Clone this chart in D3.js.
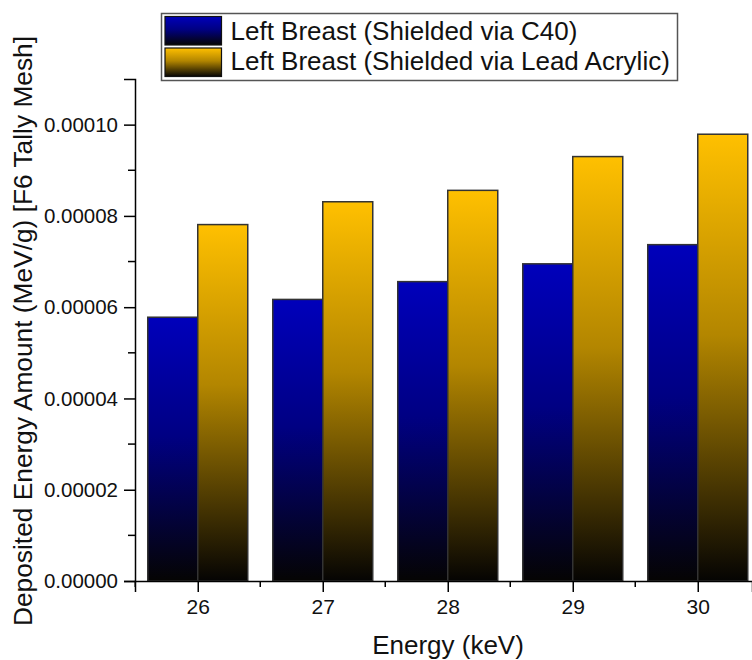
<!DOCTYPE html>
<html>
<head>
<meta charset="utf-8">
<script src="https://cdn.jsdelivr.net/npm/d3@7"></script>
<style>
  body { margin: 0; background: #fff; }
  svg { font-family: "Liberation Sans", Arial, sans-serif; }
</style>
</head>
<body>
<script>
// chart data
var energies = [26, 27, 28, 29, 30];
var c40Values = [0.0000578, 0.0000617, 0.0000656, 0.0000695, 0.0000737];
var leadAcrylicValues = [0.0000781, 0.0000831, 0.0000856, 0.0000930, 0.0000979];
var yTicks = [0, 0.00002, 0.00004, 0.00006, 0.00008, 0.00010];
var seriesNames = ["Left Breast (Shielded via C40)", "Left Breast (Shielded via Lead Acrylic)"];
var seriesColors = ["#0000bb", "#ffc000"];

var width = 752, height = 660;
var plotLeft = 135, plotBottom = 581, plotTop = 79;

var svg = d3.select("body").append("svg")
    .attr("width", width)
    .attr("height", height);

// gradients: colour at the top fading to black at the bottom
var defs = svg.append("defs");
seriesColors.forEach(function(c, i) {
    var g = defs.append("linearGradient")
        .attr("id", "grad" + i)
        .attr("x1", 0).attr("y1", 0)
        .attr("x2", 0).attr("y2", 1);
    g.append("stop").attr("offset", "0%").attr("stop-color", c);
    g.append("stop").attr("offset", "45%").attr("stop-color", d3.interpolateRgb(c, "#000")(0.3));
    g.append("stop").attr("offset", "100%").attr("stop-color", "#050403");
});

// the picture is cut at the right, just past the last bar
var xScale = d3.scaleLinear().domain([25.498, 30.434]).range([plotLeft, width]);
var yScale = d3.scaleLinear().domain([0, 0.00011]).range([plotBottom, plotTop]);

var barW = 0.4;

// bars
var series = [c40Values, leadAcrylicValues];
series.forEach(function(vals, si) {
    svg.append("g").selectAll("rect")
        .data(vals)
        .enter().append("rect")
        .attr("x", function(d, i) { return si === 0 ? xScale(energies[i] - barW) : xScale(energies[i]); })
        .attr("width", xScale(energies[0] + barW) - xScale(energies[0]))
        .attr("y", function(d) { return yScale(d); })
        .attr("height", function(d) { return yScale(0) - yScale(d); })
        .attr("fill", "url(#grad" + si + ")")
        .attr("stroke", "#333")
        .attr("stroke-width", 1.5);
});

// x axis
var xAxis = svg.append("g")
    .attr("transform", "translate(0," + plotBottom + ")")
    .call(d3.axisBottom(xScale)
        .tickValues(energies)
        .tickSize(11)
        .tickPadding(7)
        .tickFormat(d3.format("d")));
xAxis.append("g").selectAll("line")
    .data([25.5, 26.5, 27.5, 28.5, 29.5])
    .enter().append("line")
    .attr("x1", function(d) { return xScale(d); })
    .attr("x2", function(d) { return xScale(d); })
    .attr("y1", 0).attr("y2", 6)
    .attr("stroke", "#000");

// y axis
var yAxis = svg.append("g")
    .attr("transform", "translate(" + plotLeft + ",0)")
    .call(d3.axisLeft(yScale)
        .tickValues(yTicks)
        .tickSize(11)
        .tickPadding(6)
        .tickFormat(d3.format(".5f")));
yAxis.append("g").selectAll("line")
    .data([0.00001, 0.00003, 0.00005, 0.00007, 0.00009])
    .enter().append("line")
    .attr("y1", function(d) { return yScale(d); })
    .attr("y2", function(d) { return yScale(d); })
    .attr("x1", 0).attr("x2", -7)
    .attr("stroke", "#000");

[xAxis, yAxis].forEach(function(a) {
    a.attr("font-family", "'Liberation Sans', Arial, sans-serif");
    a.select(".domain").attr("stroke", "#000").attr("stroke-width", 1.5);
    a.selectAll("line").attr("stroke-width", 1.5);
    a.selectAll("text").attr("fill", "#111");
});
xAxis.attr("font-size", 21);
yAxis.attr("font-size", 20.5);

// axis titles
svg.append("text")
    .attr("x", 448)
    .attr("y", 654)
    .attr("text-anchor", "middle")
    .attr("font-size", 26)
    .attr("fill", "#111")
    .text("Energy (keV)");

svg.append("text")
    .attr("transform", "translate(32,331) rotate(-90)")
    .attr("text-anchor", "middle")
    .attr("font-size", 26.3)
    .attr("fill", "#111")
    .text("Deposited Energy Amount (MeV/g) [F6 Tally Mesh]");

// legend
var legend = svg.append("g");
legend.append("rect")
    .attr("x", 161.5).attr("y", 13.5)
    .attr("width", 516).attr("height", 67)
    .attr("fill", "#fff")
    .attr("stroke", "#555")
    .attr("stroke-width", 1.5);
seriesNames.forEach(function(name, i) {
    legend.append("rect")
        .attr("x", 165).attr("y", 16.5 + i * 31.5)
        .attr("width", 56.5).attr("height", 28.5)
        .attr("fill", "url(#grad" + i + ")")
        .attr("stroke", "#111")
        .attr("stroke-width", 1.2);
    legend.append("text")
        .attr("x", 230.5).attr("y", 40 + i * 30)
        .attr("font-size", 26)
        .attr("fill", "#111")
        .text(name);
});
</script>
</body>
</html>
